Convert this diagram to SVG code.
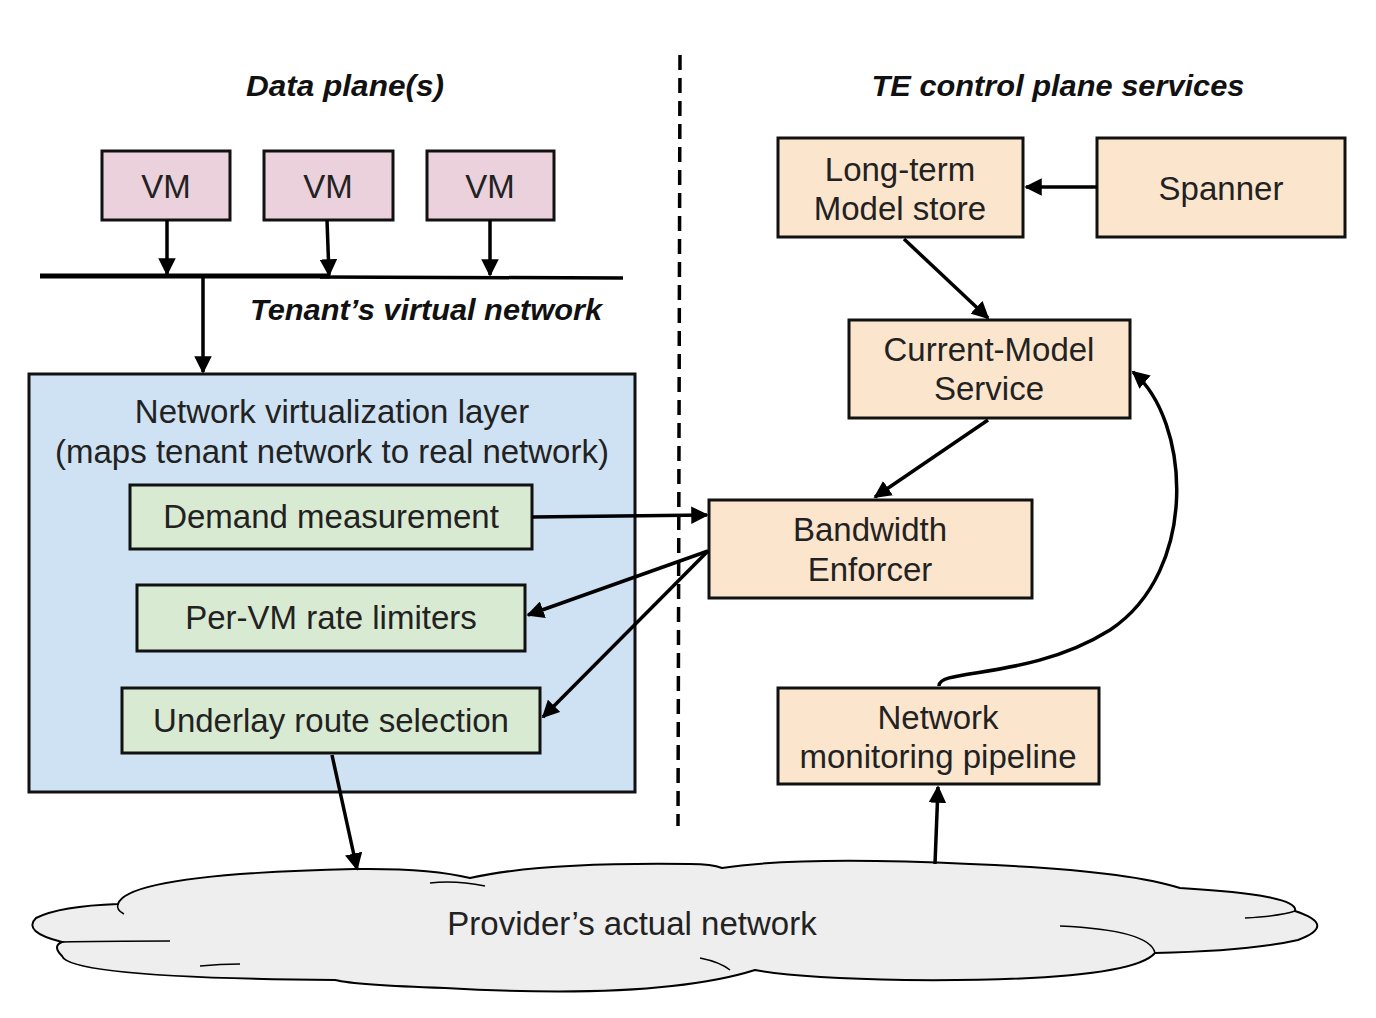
<svg xmlns="http://www.w3.org/2000/svg" width="1376" height="1018" viewBox="0 0 1376 1018">
<style>
.t{font-family:"Liberation Sans",Arial,sans-serif;font-size:33px;fill:#222;text-anchor:middle}
.h{font-family:"Liberation Sans",Arial,sans-serif;font-size:30px;font-style:italic;font-weight:bold;fill:#111;text-anchor:middle}
.box{stroke:#111;stroke-width:3}
.vm{fill:#ead1dc}
.gr{fill:#d9ead3}
.or{fill:#fce5cd}
.c{fill:none;stroke:#000;stroke-width:3.5;marker-end:url(#ah)}
</style>
<defs>
<marker id="ah" viewBox="0 0 10 10" refX="9" refY="5" markerWidth="5" markerHeight="5" orient="auto" markerUnits="strokeWidth">
<path d="M0,0 L10,5 L0,10 Z" fill="#000"/>
</marker>
</defs>
<rect width="1376" height="1018" fill="#fff"/>

<text class="h" x="345" y="96" textLength="198" lengthAdjust="spacingAndGlyphs">Data plane(s)</text>
<text class="h" x="1058" y="96" textLength="373" lengthAdjust="spacingAndGlyphs">TE control plane services</text>
<line x1="680" y1="55" x2="678" y2="826" stroke="#000" stroke-width="3.5" stroke-dasharray="15,8"/>

<g id="cloud">
<path d="M62 942 Q22 932 36 918 Q60 906 118 904 Q128 874 355 869 Q430 868 470 878 Q540 862 690 864 Q712 864 722 868 Q800 856 970 864 Q1125 870 1180 888 Q1300 895 1295 911 Q1338 925 1298 940 Q1250 951 1155 953 Q1130 982 905 980 Q800 978 755 970 Q660 1000 445 988 Q355 985 335 980 Q70 978 62 956 Q52 946 62 942 Z" fill="#eeeeee" stroke="#000" stroke-width="2"/>
<path d="M118 904 Q116 910 124 914" fill="none" stroke="#000" stroke-width="1.5"/>
<path d="M62 942 Q100 941 170 941" fill="none" stroke="#000" stroke-width="1.5"/>
<path d="M200 966 Q220 964 240 964" fill="none" stroke="#000" stroke-width="1.5"/>
<path d="M430 883 Q455 880 485 886" fill="none" stroke="#000" stroke-width="1.5"/>
<path d="M1155 953 Q1150 930 1060 926" fill="none" stroke="#000" stroke-width="1.5"/>
<path d="M1295 911 Q1280 916 1245 918" fill="none" stroke="#000" stroke-width="1.5"/>
<path d="M730 970 Q720 962 700 958" fill="none" stroke="#000" stroke-width="1.5"/>
<text class="t" x="632" y="935">Provider’s actual network</text>
</g>

<g id="vm1"><rect class="box vm" x="102" y="151" width="128" height="69"/><text class="t" x="166" y="198">VM</text></g>
<g id="vm2"><rect class="box vm" x="264" y="151" width="129" height="69"/><text class="t" x="328" y="198">VM</text></g>
<g id="vm3"><rect class="box vm" x="427" y="151" width="127" height="69"/><text class="t" x="490" y="198">VM</text></g>

<g id="tenant-network">
<line x1="40" y1="276" x2="330" y2="276" stroke="#000" stroke-width="5"/>
<line x1="320" y1="277" x2="623" y2="278" stroke="#000" stroke-width="3.5"/>
<text class="h" x="426" y="320" textLength="352" lengthAdjust="spacingAndGlyphs">Tenant’s virtual network</text>
</g>

<g id="nvl">
<rect class="box" x="29" y="374" width="606" height="418" fill="#cfe2f3"/>
<text class="t" x="332" y="423">Network virtualization layer</text>
<text class="t" x="332" y="463">(maps tenant network to real network)</text>
</g>
<g id="demand"><rect class="box gr" x="130" y="485" width="402" height="64"/><text class="t" x="331" y="528">Demand measurement</text></g>
<g id="ratelim"><rect class="box gr" x="137" y="585" width="388" height="66"/><text class="t" x="331" y="629">Per-VM rate limiters</text></g>
<g id="underlay"><rect class="box gr" x="122" y="688" width="418" height="65"/><text class="t" x="331" y="732">Underlay route selection</text></g>

<g id="longterm"><rect class="box or" x="778" y="138" width="245" height="99"/><text class="t" x="900" y="181">Long-term</text><text class="t" x="900" y="220">Model store</text></g>
<g id="spanner"><rect class="box or" x="1097" y="138" width="248" height="99"/><text class="t" x="1221" y="200">Spanner</text></g>
<g id="currentmodel"><rect class="box or" x="849" y="320" width="281" height="98"/><text class="t" x="989" y="361">Current-Model</text><text class="t" x="989" y="400">Service</text></g>
<g id="enforcer"><rect class="box or" x="709" y="500" width="323" height="98"/><text class="t" x="870" y="541">Bandwidth</text><text class="t" x="870" y="581">Enforcer</text></g>
<g id="monitor"><rect class="box or" x="778" y="688" width="321" height="96"/><text class="t" x="938" y="729">Network</text><text class="t" x="938" y="768">monitoring pipeline</text></g>

<g id="connectors">
<line class="c" x1="167" y1="220" x2="167" y2="274"/>
<line class="c" x1="327" y1="220" x2="329" y2="275"/>
<line class="c" x1="490" y1="220" x2="490" y2="275"/>
<line class="c" x1="203" y1="278" x2="203" y2="372"/>
<line class="c" x1="1097" y1="187" x2="1026" y2="187"/>
<line class="c" x1="904" y1="239" x2="988" y2="318"/>
<line class="c" x1="988" y1="420" x2="875" y2="497"/>
<line class="c" x1="532" y1="517" x2="707" y2="515"/>
<line class="c" x1="708" y1="551" x2="528" y2="615"/>
<line class="c" x1="708" y1="551" x2="543" y2="717"/>
<line class="c" x1="332" y1="755" x2="357" y2="869"/>
<line class="c" x1="935" y1="864" x2="938" y2="787"/>
<path class="c" d="M939 686 C938 668 1030 680 1110 630 C1200 570 1190 420 1133 372"/>
</g>
</svg>
